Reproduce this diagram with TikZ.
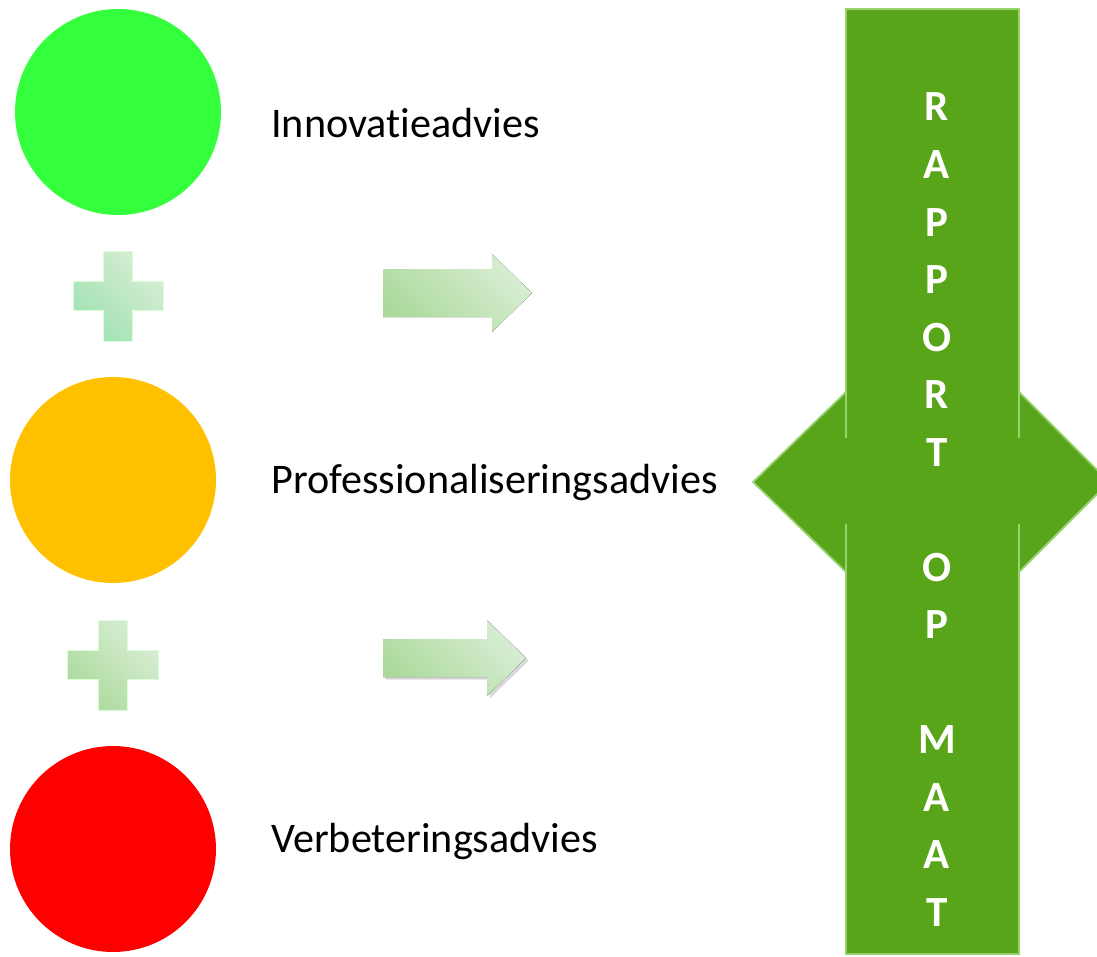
\documentclass[tikz,border=0pt]{standalone}
\usepackage{fontspec}
\setmainfont{Carlito}[Ligatures=NoCommon]
\usepackage{xcolor}
\usetikzlibrary{shadows}
\definecolor{lampgreen}{RGB}{51,255,60}
\definecolor{lamporange}{RGB}{255,192,0}
\definecolor{lampred}{RGB}{255,0,0}
\definecolor{barblue}{RGB}{89,165,26}
\definecolor{baredge}{RGB}{150,210,110}
\definecolor{mintdark}{RGB}{160,226,178}
\definecolor{leafdark}{RGB}{172,218,156}
\definecolor{palelight}{RGB}{216,237,212}

\tikzset{
  lamp/.style={circle,minimum size=4.12cm,inner sep=0pt},
  advies/.style={anchor=base west,inner sep=0pt,font=\fontsize{24}{28}\selectfont},
  barletter/.style={anchor=base,inner sep=0pt,text=white,font=\fontsize{24.5}{28}\selectfont\bfseries},
  softfill/.style={draw=white!85!green,line width=0.4pt,top color=palelight,bottom color=#1,shading angle=-45}
}

\begin{document}
\begin{tikzpicture}[x=0.02cm,y=-0.02cm]
				\useasboundingbox (0,0) rectangle (1097,956);
				\clip (0,0) rectangle (1097,956);
				% three advice levels
				\node[lamp,fill=lampgreen] (innov) at (118,112) {};
				\node[lamp,fill=lamporange] (prof) at (113,480) {};
				\node[lamp,fill=lampred] (verb) at (113,849) {};
				\node[advies] (innovtxt) at (271,138) {Innovatieadvies};
				\node[advies] (proftxt) at (271,493) {Professionaliseringsadvies};
				\node[advies] (verbtxt) at (271,852) {Verbeteringsadvies};
				% plus signs
				\draw[softfill=mintdark] (103,251) -- (132,251) -- (132,281) -- (163,281) -- (163,310) -- (132,310)
					-- (132,341) -- (103,341) -- (103,310) -- (73,310) -- (73,281) -- (103,281) -- cycle;
				\draw[softfill=leafdark] (98,620) -- (127,620) -- (127,650) -- (158,650) -- (158,679) -- (127,679)
					-- (127,710) -- (98,710) -- (98,679) -- (67,679) -- (67,650) -- (98,650) -- cycle;
				% arrows
				\fill[top color=palelight,bottom color=leafdark,shading angle=-45]
					(383,269) -- (492,269) -- (492,254) -- (532,293) -- (492,332) -- (492,317) -- (383,317) -- cycle;
				\fill[top color=palelight,bottom color=leafdark,shading angle=-45,
					drop shadow={opacity=0.3,shadow xshift=1.5pt,shadow yshift=-1.5pt}]
					(383,639) -- (487,639) -- (487,620) -- (526,658) -- (487,696) -- (487,677) -- (383,677) -- cycle;
				% rapport op maat
				\draw[fill=barblue,draw=baredge,line width=1pt]
					(846,437) -- (846,392) -- (753,482) -- (846,572) -- (846,525) -- (1019,525)
					-- (1019,572) -- (1109,482) -- (1019,392) -- (1019,437) -- cycle;
				\draw[fill=barblue,draw=baredge,line width=1pt] (846,9) rectangle (1019,954);
				\fill[barblue] (838,438) rectangle (1027,524);
				\foreach \ch [count=\i] in {R,A,P,P,O,R,T,{},O,P,{},M,A,A,T}
					\node[barletter] (letter\i) at (937,{121+(\i-1)*57.5}) {\ch};
			\end{tikzpicture}
\end{document}
